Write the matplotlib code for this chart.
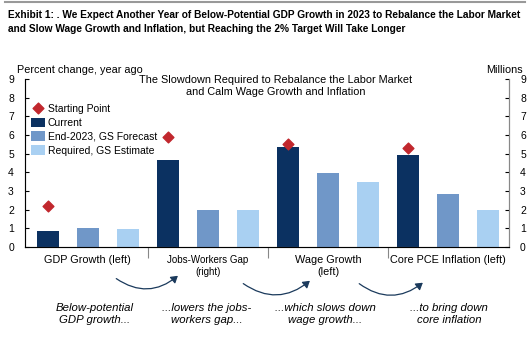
import matplotlib
matplotlib.use("Agg")
import matplotlib.pyplot as plt
from matplotlib.patches import FancyArrowPatch

plt.rcParams['font.family'] = ['Liberation Sans', 'DejaVu Sans']

categories = ["GDP Growth (left)", "Jobs-Workers Gap\n(right)", "Wage Growth\n(left)", "Core PCE Inflation (left)"]
current = [0.87, 4.66, 5.35, 4.95]
forecast = [1.03, 2.0, 3.97, 2.85]
required = [0.96, 2.0, 3.5, 2.0]
starting = [2.2, 5.9, 5.5, 5.3]
notes = ["Below-potential\nGDP growth...", "...lowers the jobs-\nworkers gap...",
         "...which slows down\nwage growth...", "...to bring down\ncore inflation"]

c_cur = "#0b3161"
c_fc = "#7097c8"
c_req = "#a9d0f2"
c_red = "#c1272d"

fig = plt.figure(figsize=(5.3, 3.38), dpi=100)
ax = fig.add_axes([25 / 530, 1 - 247 / 338, 484 / 530, 168 / 338])

xc = [3 * i for i in range(4)]
b1 = ax.bar([x for x in xc], current, width=0.55, color=c_cur, zorder=2)
b2 = ax.bar([x + 1 for x in xc], forecast, width=0.55, color=c_fc, zorder=2)
b3 = ax.bar([x + 2 for x in xc], required, width=0.55, color=c_req, zorder=2)
sc = ax.scatter(xc, starting, marker="D", s=30, color=c_red, zorder=3)

ax.set_xlim(-0.57, 11.52)
ax.set_ylim(0, 9)
ax.set_yticks(range(10))
ax.tick_params(axis="y", labelsize=7.5, length=3, direction="in", pad=8)
ax.set_xticks([2.5, 5.5, 8.5])
ax.set_xticklabels([])
ax.tick_params(axis="x", length=8, direction="out", color="#888888")
ax.spines["top"].set_visible(False)
for s in ["left", "bottom", "right"]:
    ax.spines[s].set_color("#888888")
    ax.spines[s].set_linewidth(0.8)

ax2 = ax.twinx()
ax2.set_ylim(0, 9)
ax2.set_yticks(range(10))
ax2.tick_params(axis="y", labelsize=7.5, length=3, direction="in", pad=8)
ax2.spines["top"].set_visible(False)
ax2.spines["right"].set_color("#888888")

ax2.legend([sc, b1, b2, b3],
           ["Starting Point", "Current", "End-2023, GS Forecast", "Required, GS Estimate"],
           loc="upper left", bbox_to_anchor=(0.0, 0.89), frameon=False, fontsize=7.5,
           handlelength=1.3, handleheight=1.0, handletextpad=0.3, labelspacing=0.35,
           borderaxespad=0.2)

# category labels under the axis
for i, cat in enumerate(categories):
    fs = 7 if i == 1 else 7.8
    ax.annotate(cat, xy=(xc[i] + 1, 0), xycoords="data", xytext=(0, -6),
                textcoords="offset points", ha="center", va="top", fontsize=fs,
                linespacing=1.2, annotation_clip=False)

# notes and curved arrows
note_x = [95, 207, 325, 449]
for x, t in zip(note_x, notes):
    fig.text(x / 530, 1 - 314 / 338, t, ha="center", va="center", fontsize=8.2,
             style="italic", linespacing=1.25)

arrows = [((114, 277), (180, 274)), ((241, 282), (312, 279)), ((357, 282), (425, 281))]
for (x0, y0), (x1, y1) in arrows:
    a = FancyArrowPatch((x0 / 530, 1 - y0 / 338), (x1 / 530, 1 - y1 / 338),
                        transform=fig.transFigure, connectionstyle="arc3,rad=0.4",
                        arrowstyle="-|>,head_length=4,head_width=2.5",
                        color="#1b3a5c", lw=0.9)
    fig.add_artist(a)

# titles
fig.add_artist(plt.Line2D([0.01, 0.99], [1 - 2 / 338, 1 - 2 / 338], color="#999999", lw=1.5))
fig.text(8 / 530, 1 - 22 / 338,
         "Exhibit 1: . We Expect Another Year of Below-Potential GDP Growth in 2023 to Rebalance the Labor Market\n"
         "and Slow Wage Growth and Inflation, but Reaching the 2% Target Will Take Longer",
         ha="left", va="center", fontsize=7.3, fontweight="bold", linespacing=1.45,
         family=["Liberation Sans Narrow", "Liberation Sans", "DejaVu Sans"])
fig.text(17 / 530, 1 - 70 / 338, "Percent change, year ago", ha="left", va="center", fontsize=7.8)
fig.text(523 / 530, 1 - 70 / 338, "Millions", ha="right", va="center", fontsize=7.8)
fig.text(276 / 530, 1 - 86 / 338,
         "The Slowdown Required to Rebalance the Labor Market\nand Calm Wage Growth and Inflation",
         ha="center", va="center", fontsize=7.8, linespacing=1.2)

fig.savefig("out.png", dpi=100)
